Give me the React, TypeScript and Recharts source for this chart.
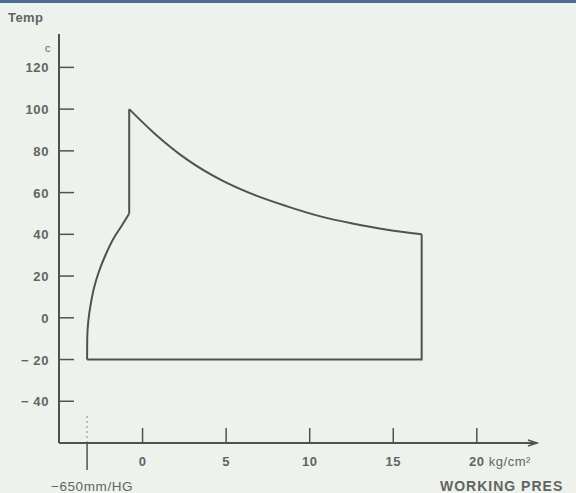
import React from 'react';
import {
    LineChart,
    Line,
    XAxis,
    YAxis,
    ReferenceLine,
    ReferenceDot,
} from 'recharts';

// Operating envelope: working pressure (kg/cm2, vacuum point at left) vs temperature (C)
// left boundary curve (vacuum side), from -20 C up to 50 C
const leftPressure = [-3.32, -3.31, -3.25, -3.11, -2.91, -2.61, -2.21, -1.72, -1.21, -0.8];
const leftTemp = [-20, -9.7, -1.8, 6.2, 14.2, 22.2, 30.2, 38.2, 44.6, 50];
// upper boundary curve, from 100 C falling to 40 C
const topPressure = [-0.8, 0.68, 2.67, 4.66, 6.65, 8.65, 10.64, 12.63, 14.63, 16.7];
const topTemp = [100, 88.6, 75.8, 66.2, 59, 53.4, 48.6, 45.1, 42.2, 40];
// straight edges
const stepPressure = [-0.8, -0.8];
const stepTemp = [50, 100];
const edgePressure = [16.7, 16.7, -3.32];
const edgeTemp = [40, -20, -20];

const xTicks = [-3.32, 0, 5, 10, 15, 20];
const xTickLabels = ['\u2212650mm/HG', '0', '5', '10', '15', '20'];
const yTicks = [-40, -20, 0, 20, 40, 60, 80, 100, 120];

const zip = (ps: number[], ts: number[]) => ps.map((p, i) => ({ p, t: ts[i] }));
const leftCurve = zip(leftPressure, leftTemp);
const topCurve = zip(topPressure, topTemp);
const stepEdge = zip(stepPressure, stepTemp);
const outerEdge = zip(edgePressure, edgeTemp);

const INK = '#505251';
const TEXT = '#626463';
const FONT = '"Liberation Sans", Arial, sans-serif';

const XTick = (props: any) => {
    const { x, y, payload, index } = props;
    const label = xTickLabels[index] ?? String(payload.value);
    if (index === 0) {
        return (
            <g>
                <line x1={x} y1={y} x2={x} y2={y + 27} stroke={INK} strokeWidth={1.5} />
                <text x={x + 5} y={y + 48} textAnchor="middle" fontSize={13.5} fill={TEXT} fontFamily={FONT} letterSpacing={0.6}>
                    {label}
                </text>
            </g>
        );
    }
    return (
        <g>
            <line x1={x} y1={y} x2={x} y2={y - 15} stroke={INK} strokeWidth={1.5} />
            <text x={x} y={y + 23} textAnchor="middle" fontSize={13} fontWeight="bold" fill={TEXT} fontFamily={FONT} letterSpacing={0.5}>
                {label}
            </text>
            {index === xTicks.length - 1 && (
                <text x={x + 12} y={y + 23} textAnchor="start" fontSize={13} fill={TEXT} fontFamily={FONT} letterSpacing={0.5}>
                    kg/cm²
                </text>
            )}
        </g>
    );
};

const YTick = (props: any) => {
    const { x, y, payload } = props;
    const neg = payload.value < 0;
    return (
        <g>
            <line x1={x} y1={y} x2={x + 15} y2={y} stroke={INK} strokeWidth={1.5} />
            <text x={x - 10} y={y + 5} textAnchor="end" fontSize={13} fontWeight="bold" fill={TEXT} fontFamily={FONT} letterSpacing={0.6}>
                {neg ? '\u2212 ' + Math.abs(payload.value) : payload.value}
            </text>
        </g>
    );
};

const Arrow = (props: any) => {
    const { cx, cy } = props;
    return <path d={`M${cx - 9},${cy - 3} L${cx},${cy} L${cx - 9},${cy + 3}`} fill="none" stroke={INK} strokeWidth={1.5} />;
};

const lineProps = {
    dataKey: 't',
    stroke: INK,
    strokeWidth: 2,
    dot: false,
    activeDot: false,
    isAnimationActive: false,
} as const;

export default function App() {
    return (
        <div
            style={{
                position: 'absolute',
                left: 0,
                top: 0,
                width: 576,
                height: 493,
                background: '#eef2ed',
                overflow: 'hidden',
                fontFamily: FONT,
            }}
        >
            <div style={{ position: 'absolute', left: 0, top: 0, width: 576, height: 3, background: '#4b6e92' }} />
            <div style={{ position: 'absolute', left: 8, top: 10, fontSize: 13, fontWeight: 'bold', color: TEXT, letterSpacing: 0.4 }}>Temp</div>
            <div style={{ position: 'absolute', left: 45, top: 42, fontSize: 11, color: TEXT }}>c</div>
            <div style={{ position: 'absolute', left: 440, top: 478, fontSize: 14, fontWeight: 'bold', color: TEXT, whiteSpace: 'nowrap', letterSpacing: 1 }}>
                WORKING PRES
            </div>
            <LineChart
                width={576}
                height={493}
                margin={{ top: 34, right: 39, left: 0, bottom: 0 }}
            >
                <XAxis
                    dataKey="p"
                    type="number"
                    domain={[-5, 23.6]}
                    ticks={xTicks}
                    interval={0}
                    height={50}
                    tickSize={0}
                    tickMargin={0}
                    tickLine={false}
                    axisLine={{ stroke: INK, strokeWidth: 2 }}
                    tick={<XTick />}
                    allowDataOverflow
                />
                <YAxis
                    dataKey="t"
                    type="number"
                    domain={[-60, 136]}
                    ticks={yTicks}
                    interval={0}
                    width={59}
                    tickSize={0}
                    tickMargin={0}
                    tickLine={false}
                    axisLine={{ stroke: INK, strokeWidth: 2 }}
                    tick={<YTick />}
                    allowDataOverflow
                />
                <ReferenceLine
                    segment={[{ x: -3.32, y: -60 }, { x: -3.32, y: -46 }]}
                    stroke="#9a9c9b"
                    strokeDasharray="2 3"
                    strokeWidth={1.2}
                />
                <ReferenceDot x={23.6} y={-60} r={0} shape={<Arrow />} />
                <Line {...lineProps} data={leftCurve} type="monotoneY" />
                <Line {...lineProps} data={topCurve} type="monotone" />
                <Line {...lineProps} data={stepEdge} type="linear" />
                <Line {...lineProps} data={outerEdge} type="linear" />
            </LineChart>
        </div>
    );
}
